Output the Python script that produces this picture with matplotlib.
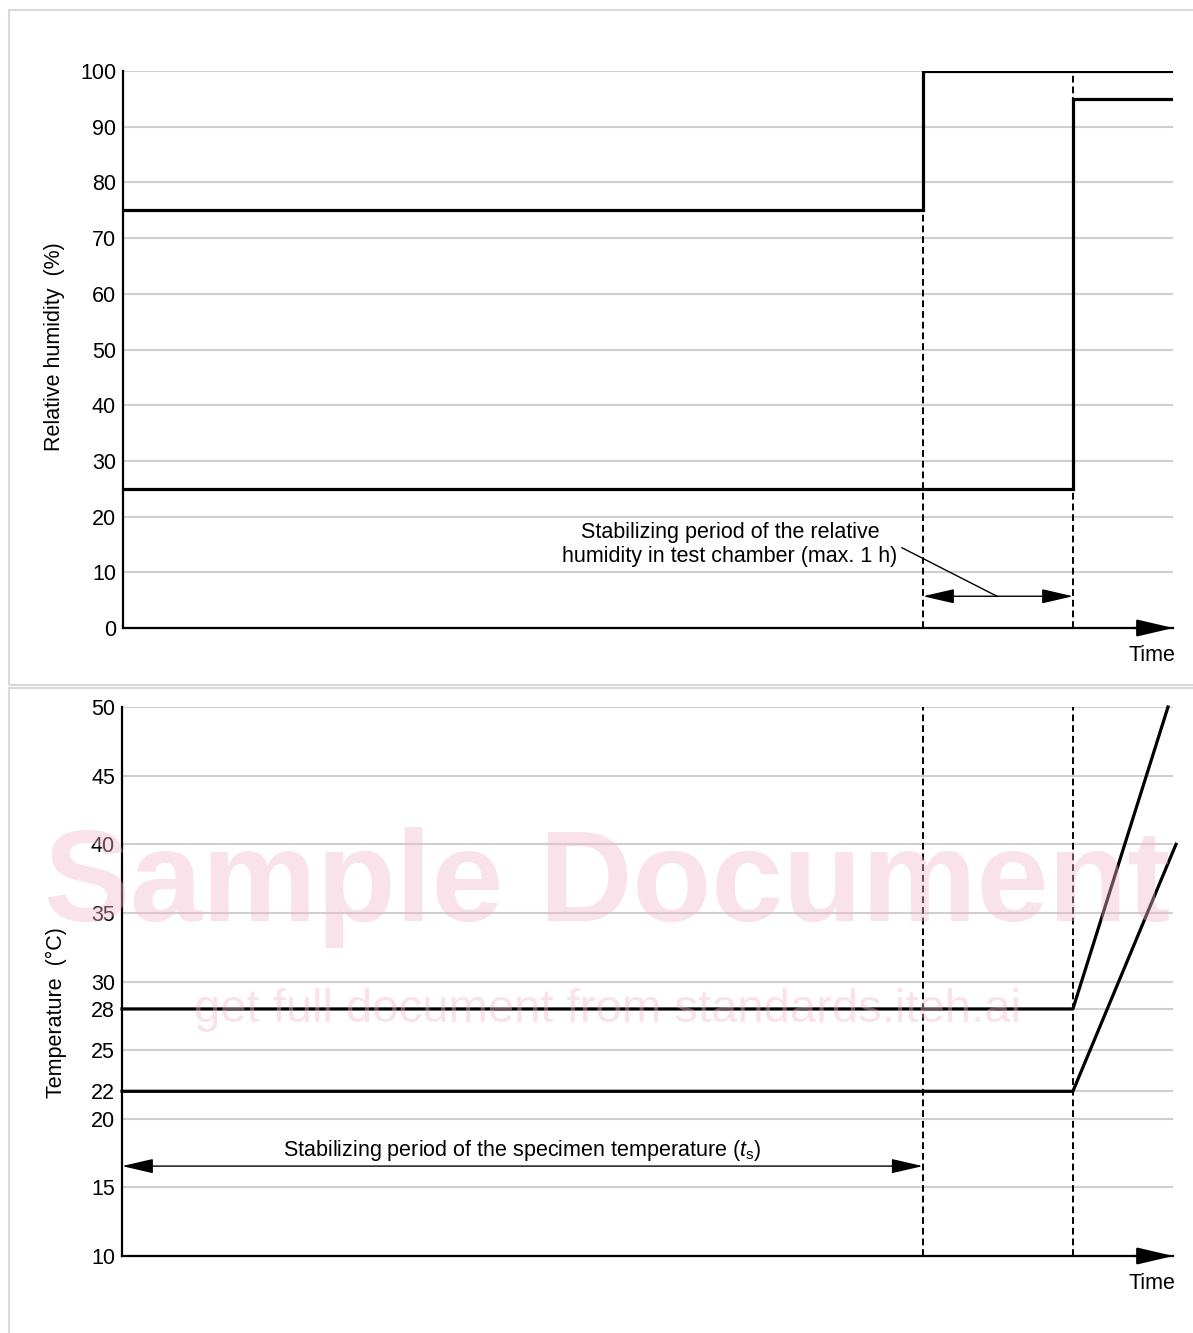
import matplotlib.pyplot as plt
from matplotlib.patches import Rectangle

plt.rcParams['font.family'] = ['Liberation Sans', 'DejaVu Sans']
plt.rcParams['mathtext.fontset'] = 'custom'
plt.rcParams['mathtext.rm'] = 'Liberation Sans'
plt.rcParams['mathtext.it'] = 'Liberation Sans:italic'

# time axis (arbitrary units)
t_marks = [8.0, 9.5]

# relative humidity (%)
t_rh_upper = [0, 8.0, 8.0, 10.5]
rh_upper = [75, 75, 100, 100]
t_rh_lower = [0, 9.5, 9.5, 10.5]
rh_lower = [25, 25, 95, 95]
rh_ticks = [0, 10, 20, 30, 40, 50, 60, 70, 80, 90, 100]

# temperature (°C)
t_temp_upper = [0, 9.5, 10.45]
temp_upper = [28, 28, 50]
t_temp_lower = [0, 9.5, 10.53]
temp_lower = [22, 22, 40]
temp_ticks = [10, 15, 20, 22, 25, 28, 30, 35, 40, 45, 50]

FS = 15.5

fig = plt.figure(figsize=(11.93, 13.33), dpi=100)

# panel frames
fig.patches.append(Rectangle((9 / 1193, 1 - 685 / 1333), 1.0, 675 / 1333, transform=fig.transFigure,
                             fill=False, edgecolor='#d9d9d9', lw=1.5))
fig.patches.append(Rectangle((9 / 1193, -0.01), 1.0, 645 / 1333 + 0.01, transform=fig.transFigure,
                             fill=False, edgecolor='#d9d9d9', lw=1.5))

ax1 = fig.add_axes([123 / 1193, 705 / 1333, 1050 / 1193, 557 / 1333])
ax2 = fig.add_axes([122 / 1193, 77 / 1333, 1051 / 1193, 549 / 1333])


def style(ax, ticks):
    ax.set_xlim(0, 10.5)
    ax.set_ylim(ticks[0], ticks[-1])
    ax.set_yticks(ticks)
    ax.set_xticks([])
    ax.grid(axis='y', color='#cfcfcf', lw=1.5)
    ax.set_axisbelow(True)
    for s in ['top', 'right']:
        ax.spines[s].set_visible(False)
    for s in ['left', 'bottom']:
        ax.spines[s].set_linewidth(1.6)
    ax.tick_params(axis='y', length=0, pad=5, labelsize=FS)
    ax.annotate('', xy=(1.003, 0), xycoords='axes fraction', xytext=(0.96, 0),
                arrowprops=dict(arrowstyle='-|>,head_length=1.5,head_width=0.35', color='black',
                                lw=1.6, mutation_scale=15), annotation_clip=False)
    ax.annotate('Time', xy=(1.0, 0), xycoords='axes fraction', xytext=(2, -12),
                textcoords='offset points', ha='right', va='top', fontsize=FS)


style(ax1, rh_ticks)
style(ax2, temp_ticks)

# --- relative humidity
for t in t_marks:
    ax1.plot([t, t], [0, 100], color='black', lw=1.4, ls=(0, (3.5, 2)))
ax1.plot(t_rh_upper, rh_upper, color='black', lw=2.3, solid_joinstyle='miter')
ax1.plot(t_rh_lower, rh_lower, color='black', lw=2.3, solid_joinstyle='miter')
ax1.annotate('', xy=(t_marks[0], 5.7), xytext=(t_marks[1], 5.7),
             arrowprops=dict(arrowstyle='<|-|>,head_length=1.3,head_width=0.3', color='black',
                             lw=1, mutation_scale=15, shrinkA=0, shrinkB=0))
ax1.plot([7.79, 8.74], [14.4, 5.7], color='black', lw=1)
ax1.text(6.07, 15.0, 'Stabilizing period of the relative\nhumidity in test chamber (max. 1 h)',
         ha='center', va='center', fontsize=FS, linespacing=1.2)
ax1.text(-0.065, 0.505, 'Relative humidity  (%)', transform=ax1.transAxes, rotation=90,
         ha='center', va='center', fontsize=FS)

# --- temperature
for t in t_marks:
    ax2.plot([t, t], [10, 50], color='black', lw=1.4, ls=(0, (3.5, 2)))
ax2.plot(t_temp_upper, temp_upper, color='black', lw=2.3, clip_on=False)
ax2.plot(t_temp_lower, temp_lower, color='black', lw=2.3, clip_on=False)
ax2.annotate('', xy=(0, 16.55), xytext=(t_marks[0], 16.55),
             arrowprops=dict(arrowstyle='<|-|>,head_length=1.3,head_width=0.3', color='black',
                             lw=1, mutation_scale=15, shrinkA=0, shrinkB=0))
ax2.text(4.0, 17.7, r'Stabilizing period of the specimen temperature ($\mathit{t}_\mathrm{s}$)',
         ha='center', va='center', fontsize=FS)
ax2.text(-0.062, 0.444, 'Temperature  (°C)', transform=ax2.transAxes, rotation=90,
         ha='center', va='center', fontsize=FS)

# watermark
fig.text(607 / 1193, 1 - 887 / 1333, 'Sample Document', ha='center', va='center',
         fontsize=93, fontweight='bold', color='#f2b8c8', alpha=0.4, zorder=5)
fig.text(607 / 1193, 1 - 1010 / 1333, 'get full document from standards.iteh.ai', ha='center',
         va='center', fontsize=34, color='#f2b8c8', alpha=0.4, zorder=5)

fig.savefig('out.png', dpi=100)
